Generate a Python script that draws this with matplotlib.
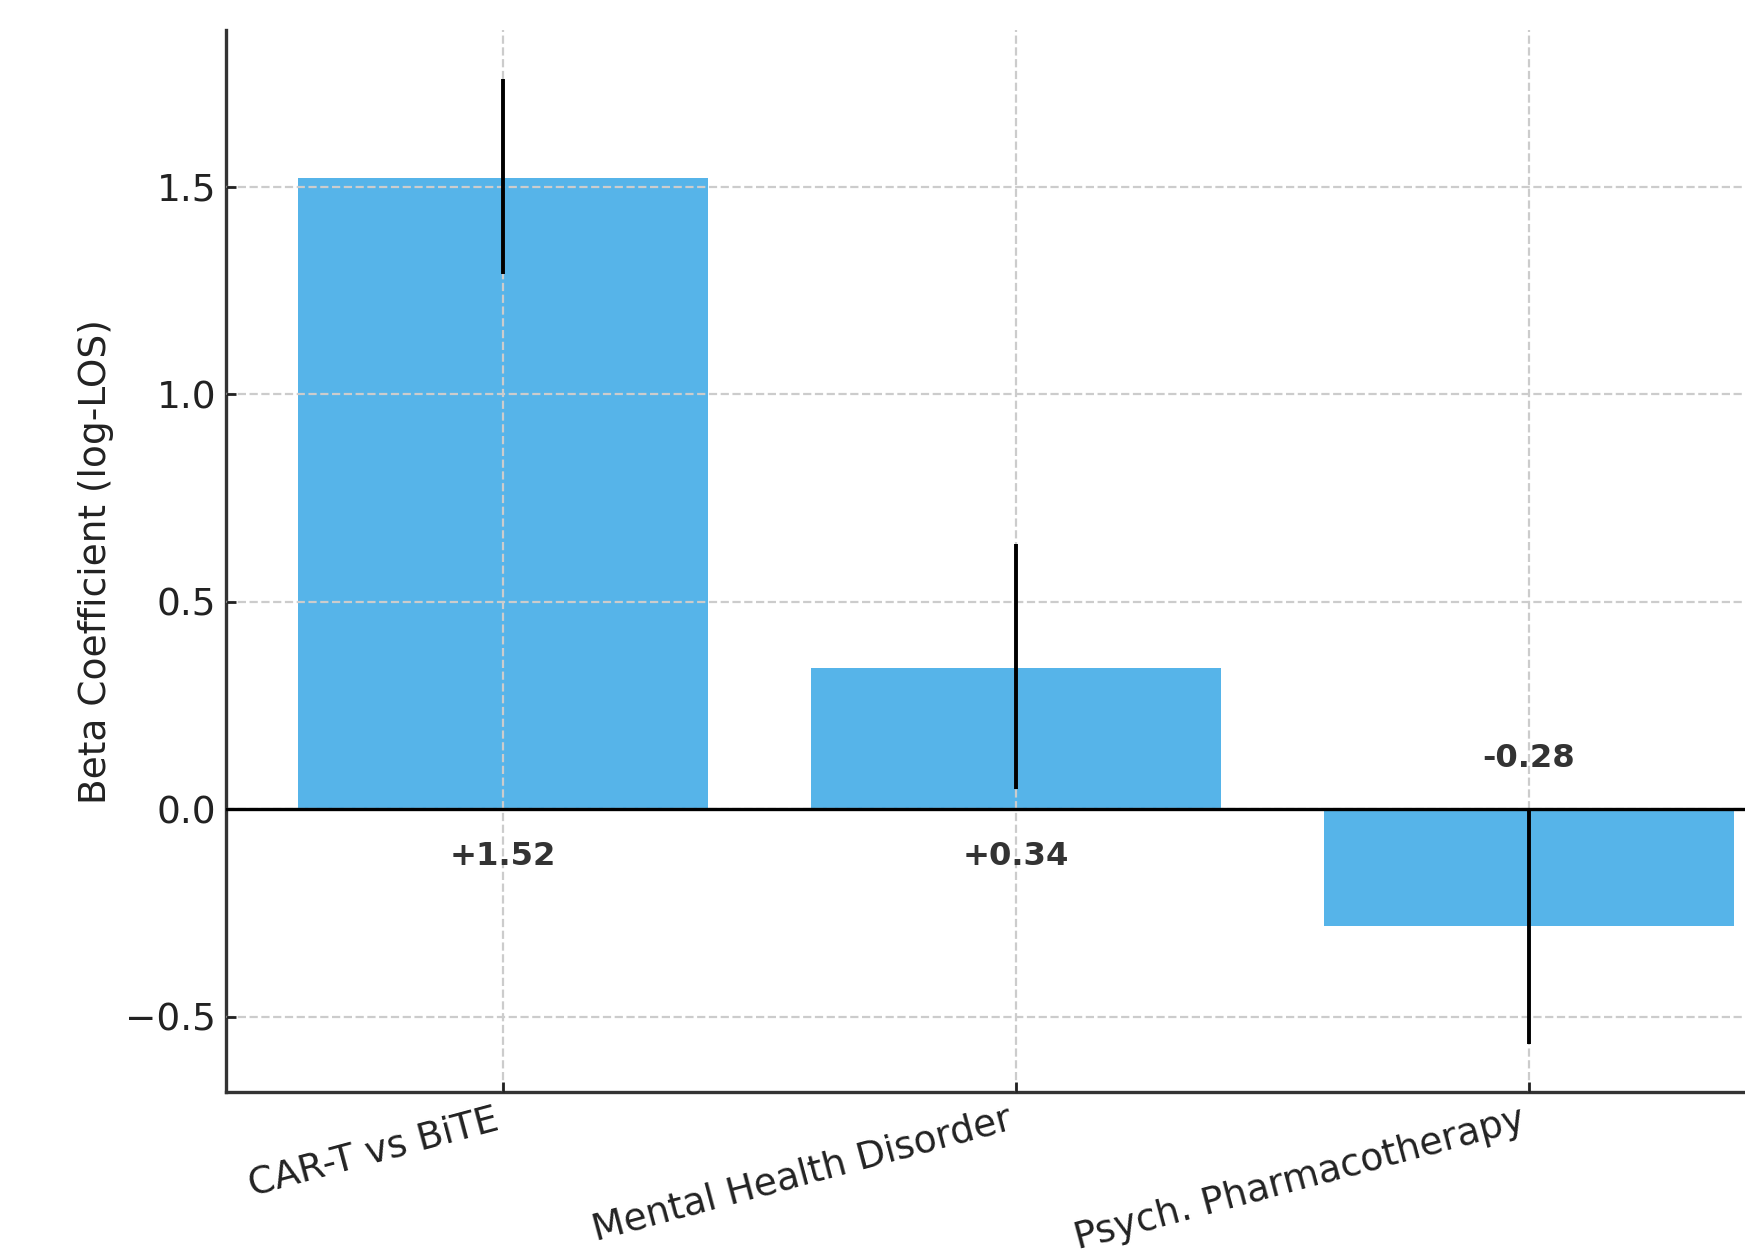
import matplotlib
matplotlib.use("Agg")
import matplotlib.pyplot as plt
import numpy as np

categories = ["CAR-T vs BiTE", "Mental Health Disorder", "Psych. Pharmacotherapy"]
betas = [1.52, 0.34, -0.28]
ci_low = [1.29, 0.05, -0.565]
ci_high = [1.76, 0.64, 0.0]
value_labels = ["+1.52", "+0.34", "-0.28"]

if __name__ == "__main__":
    fig = plt.figure(figsize=(8.725, 6.255), dpi=200)
    ax = fig.add_axes([0.1295, 0.127, 0.9054, 0.849])

    x = np.arange(len(categories))
    betas_arr = np.array(betas)
    yerr = np.array([betas_arr - np.array(ci_low), np.array(ci_high) - betas_arr])

    ax.bar(x, betas, width=0.8, color="#56B4E9", zorder=1)
    ax.errorbar(x, betas, yerr=yerr, fmt="none", ecolor="black",
                elinewidth=1.4, capsize=0, zorder=4)
    ax.axhline(0, color="black", linewidth=1.2, zorder=3)

    for xi, v, lab in zip(x, betas, value_labels):
        y = -0.113 if v > 0 else 0.123
        ax.text(xi, y, lab, ha="center", va="center", fontsize=11.6,
                fontweight="bold", color="#333333", zorder=5)

    ax.grid(True, linestyle="--", color="#cccccc", linewidth=0.8, zorder=2)
    ax.set_axisbelow(False)

    ax.set_xticks(x)
    ax.set_xticklabels(categories, rotation=15, ha="right", fontsize=13.5, color="#222222")
    ax.set_yticks([-0.5, 0.0, 0.5, 1.0, 1.5])
    ax.tick_params(axis="both", direction="in", length=3.5, width=1, colors="#222222", labelsize=13.5)
    ax.set_ylabel("Beta Coefficient (log-LOS)", fontsize=13.5, color="#222222")

    ax.set_xlim(-0.54, 2.54)
    ax.set_ylim(-0.681, 1.877)

    ax.spines["top"].set_visible(False)
    ax.spines["right"].set_visible(False)
    for s in ["left", "bottom"]:
        ax.spines[s].set_color("#333333")
        ax.spines[s].set_linewidth(1.2)

    fig.savefig("out.png", dpi=200)
